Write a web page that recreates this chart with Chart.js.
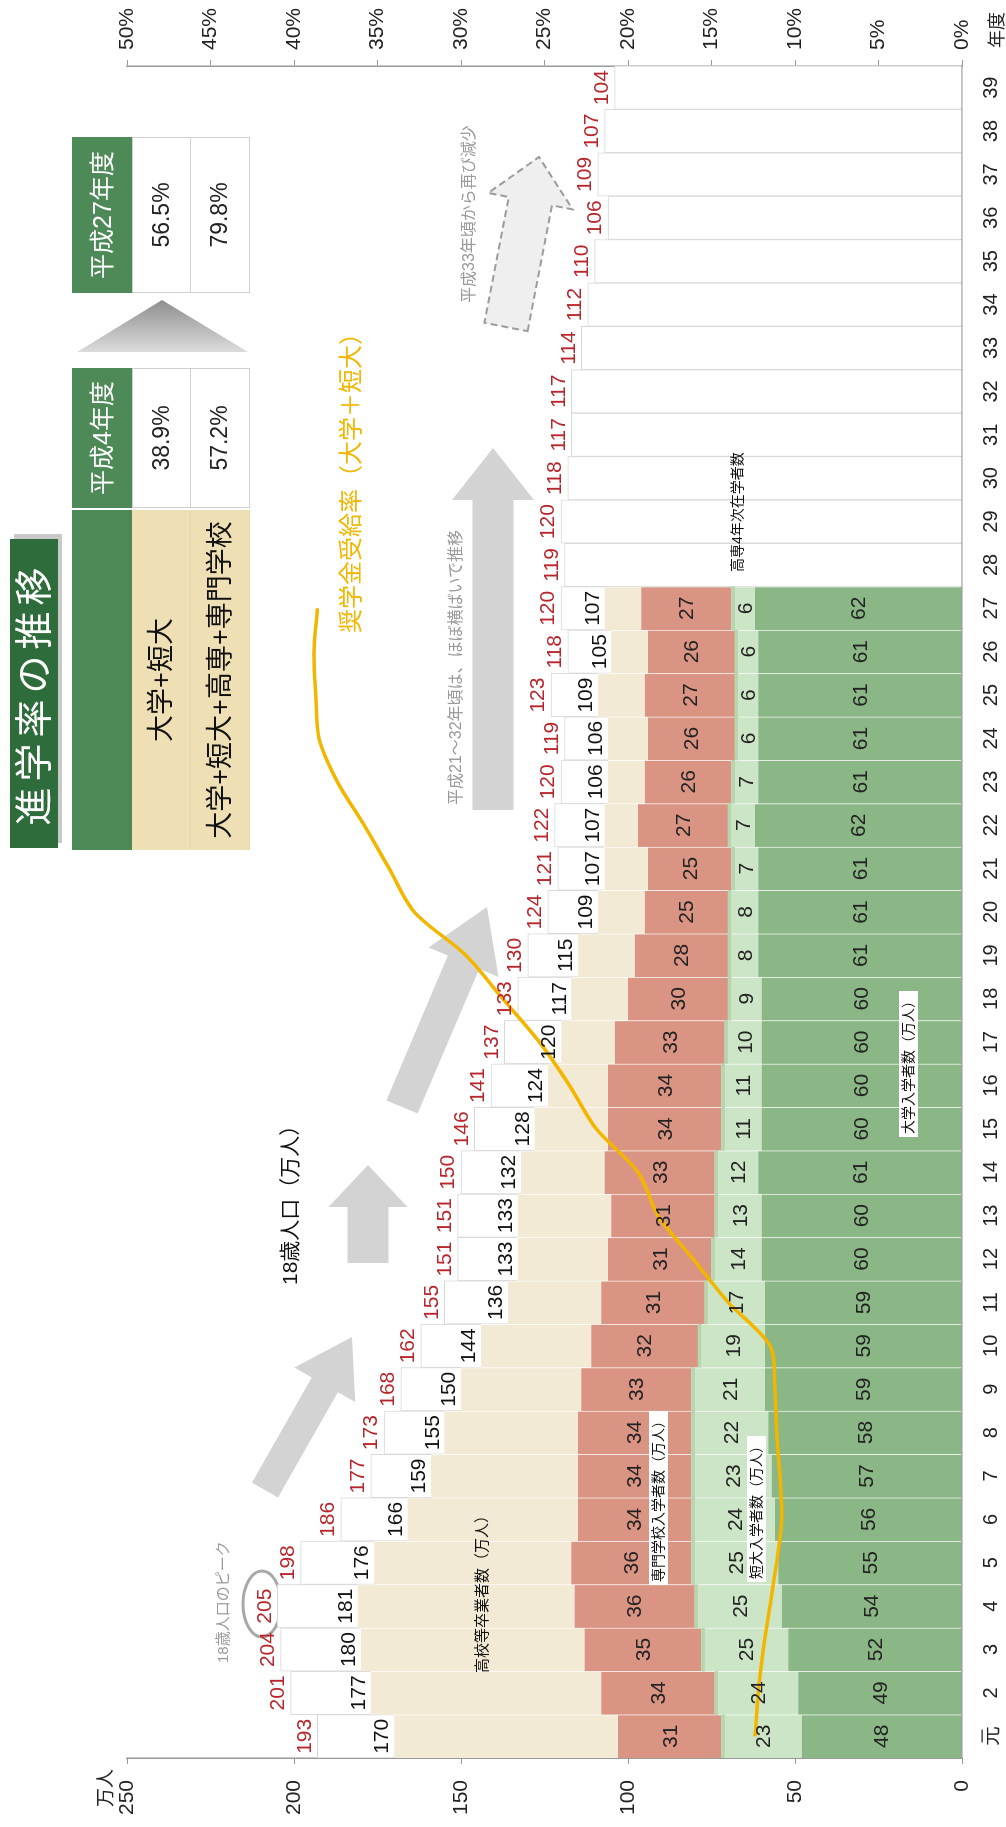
<!DOCTYPE html>
<html lang="ja">
<head>
<meta charset="utf-8">
<title>進学率の推移</title>
<script src="https://cdn.jsdelivr.net/npm/chart.js@4.4.1/dist/chart.umd.min.js"></script>
<style>
html, body { margin: 0; padding: 0; background: #fff; width: 1006px; height: 1827px; overflow: hidden; }
/* the chart is laid out in landscape and turned a quarter turn to the left */
#land {
    position: absolute; left: 0; top: 0; width: 1827px; height: 1006px;
    transform-origin: 0 0; transform: translate(0, 1827px) rotate(-90deg);
    font-family: "Liberation Sans", Arial, "Noto Sans CJK JP", sans-serif;
}
#arrows { position: absolute; left: 0; top: 0; z-index: 0; }
#chart { position: absolute; left: 0; top: 0; z-index: 1; }
.abs { position: absolute; white-space: nowrap; z-index: 2; }
.cell { position: absolute; box-sizing: border-box; text-align: center; z-index: 2; }
.green { background: #4e8a57; color: #fff; font-size: 25px; }
.beige { background: #eedfb5; color: #111; font-size: 27px; border-bottom: 1px solid #e4d6ae; }
.white { background: #fff; color: #222; font-size: 23px; border: 1.5px solid #cfcfcf; }
.tag { background: #fff; color: #111; font-size: 14px; padding: 0 3px; line-height: 19px; }
.note { color: #9a9a9a; font-size: 16px; }
</style>
</head>
<body>
<div id="land">
    <svg id="arrows" width="1827" height="1006"></svg>
    <canvas id="chart" width="1827" height="1006"></canvas>

    <!-- title and the rate table -->
    <div class="abs" style="left:979px;top:10px;width:309px;height:48px;background:#2f6c3b;color:#fff;font-size:38px;line-height:48px;text-align:center;letter-spacing:6px;box-shadow:5px 4px 0 #c9c9c9;">進学率の推移</div>

    <div class="cell green" style="left:977px;top:72px;width:340px;height:60px;"></div>
    <div class="cell beige" style="left:977px;top:132px;width:340px;height:59px;line-height:59px;">大学+短大</div>
    <div class="cell beige" style="left:977px;top:191px;width:340px;height:59px;line-height:59px;">大学+短大+高専+専門学校</div>

    <div class="cell green" style="left:1319px;top:72px;width:140px;height:60px;line-height:60px;">平成4年度</div>
    <div class="cell white" style="left:1319px;top:132px;width:140px;height:59px;line-height:56px;">38.9%</div>
    <div class="cell white" style="left:1319px;top:190px;width:140px;height:60px;line-height:57px;">57.2%</div>

    <div class="cell green" style="left:1534px;top:72px;width:156px;height:60px;line-height:60px;">平成27年度</div>
    <div class="cell white" style="left:1534px;top:132px;width:156px;height:59px;line-height:56px;">56.5%</div>
    <div class="cell white" style="left:1534px;top:190px;width:156px;height:60px;line-height:57px;">79.8%</div>

    <!-- annotations -->
    <div class="abs" style="left:20px;top:90px;font-size:19px;color:#222;">万人</div>
    <div class="abs" style="left:1779px;top:982px;font-size:18px;color:#222;">年度</div>
    <div class="abs" style="left:542px;top:273px;font-size:21px;color:#111;">18歳人口（万人）</div>
    <div class="abs note" style="left:164px;top:211px;font-size:15px;">18歳人口のピーク</div>
    <div class="abs note" style="left:1022px;top:442px;">平成21～32年頃は、ほぼ横ばいで推移</div>
    <div class="abs note" style="left:1524px;top:455px;">平成33年頃から再び減少</div>
    <div class="abs" style="left:1194px;top:331px;font-size:24px;color:#f2b600;">奨学金受給率（大学＋短大）</div>
    <div class="abs" style="left:154px;top:470px;font-size:15px;color:#111;">高校等卒業者数（万人）</div>
    <div class="abs tag" style="left:242px;top:649px;">専門学校入学者数（万人）</div>
    <div class="abs tag" style="left:245px;top:747px;">短大入学者数（万人）</div>
    <div class="abs tag" style="left:690px;top:899px;">大学入学者数（万人）</div>
    <div class="abs" style="left:1255px;top:726px;font-size:14px;color:#111;">高専4年次在学者数</div>
</div>

<script>
// === Data (万人 / %) ===
const years = ['元', '2', '3', '4', '5', '6', '7', '8', '9', '10', '11', '12', '13', '14', '15', '16', '17', '18', '19', '20',
    '21', '22', '23', '24', '25', '26', '27', '28', '29', '30', '31', '32', '33', '34', '35', '36', '37', '38', '39'];

// 大学入学者数
const univ = [48, 49, 52, 54, 55, 56, 57, 58, 59, 59, 59, 60, 60, 61, 60, 60, 60, 60, 61, 61, 61, 62, 61, 61, 61, 61, 62];
// 短大入学者数
const junior = [23, 24, 25, 25, 25, 24, 23, 22, 21, 19, 17, 14, 13, 12, 11, 11, 10, 9, 8, 8, 7, 7, 7, 6, 6, 6, 6];
// 高専4年次在学者数 (thin band, no labels)
const kosen = [1, 1, 1, 1, 1, 1, 1, 1, 1, 1, 1, 1, 1, 1, 1, 1, 1, 1, 1, 1, 1, 1, 1, 1, 1, 1, 1];
// 専門学校入学者数
const senmon = [31, 34, 35, 36, 36, 34, 34, 34, 33, 32, 31, 31, 31, 33, 34, 34, 33, 30, 28, 25, 25, 27, 26, 26, 27, 26, 27];
// 高校等卒業者数
const grads = [170, 177, 180, 181, 176, 166, 159, 155, 150, 144, 136, 133, 133, 132, 128, 124, 120, 117, 115, 109,
    107, 107, 106, 106, 109, 105, 107];
// 18歳人口
const pop18 = [193, 201, 204, 205, 198, 186, 177, 173, 168, 162, 155, 151, 151, 150, 146, 141, 137, 133, 130, 124,
    121, 122, 120, 119, 123, 118, 120, 119, 120, 118, 117, 117, 114, 112, 110, 106, 109, 107, 104];
// 奨学金受給率（大学＋短大） %
const scholarRate = [12.4, 12.2, 11.9, 11.5, 11.1, 10.8, 10.9, 11.1, 11.2, 11.5, 14.0, 16.1, 18.2, 19.4, 21.9, 23.5,
    25.3, 27.5, 29.7, 32.8, 34.3, 35.8, 37.4, 38.5, 38.7, 38.8, 38.6];

// the beige part is what is left of the graduates, the white part is the rest of the 18-year-olds
const gradsRest = grads.map((g, i) => g - univ[i] - junior[i] - kosen[i] - senmon[i]);
const popRest = pop18.map((p, i) => i < grads.length ? p - grads[i] : p);

// === Arrows and the ring round the peak (plain drawings, landscape coords) ===
function arrowPath(tx, ty, px, py, w, hw, hl) {
    const L = Math.hypot(px - tx, py - ty), ux = (px - tx) / L, uy = (py - ty) / L, nx = -uy, ny = ux;
    const bx = px - ux * hl, by = py - uy * hl;
    const pts = [
        [tx + nx * w / 2, ty + ny * w / 2], [bx + nx * w / 2, by + ny * w / 2], [bx + nx * hw / 2, by + ny * hw / 2],
        [px, py],
        [bx - nx * hw / 2, by - ny * hw / 2], [bx - nx * w / 2, by - ny * w / 2], [tx - nx * w / 2, ty - ny * w / 2]
    ];
    return pts.map(p => p[0].toFixed(1) + ',' + p[1].toFixed(1)).join(' ');
}
const svg = document.getElementById('arrows');
svg.innerHTML = `
  <defs><linearGradient id="tri" x1="0" x2="1" y1="0" y2="0">
    <stop offset="0" stop-color="#dcdcdc"/><stop offset="1" stop-color="#8e8e8e"/></linearGradient></defs>
  <polygon points="1475,77 1475,248 1527,162" fill="url(#tri)"/>
  <polygon points="${arrowPath(337, 265, 490, 352, 30, 70, 55)}" fill="#d3d3d3"/>
  <polygon points="${arrowPath(564, 368, 662, 368, 41, 79, 42)}" fill="#d3d3d3"/>
  <polygon points="${arrowPath(720, 402, 920, 487, 34, 76, 60)}" fill="#d3d3d3"/>
  <polygon points="${arrowPath(1017, 493, 1379, 493, 41, 82, 52)}" fill="#d3d3d3"/>
  <polygon points="${arrowPath(1500, 506, 1670, 539, 44, 86, 45)}" fill="#efefef" stroke="#9c9c9c" stroke-width="2" stroke-dasharray="7 4"/>
  <ellipse cx="223" cy="262" rx="33" ry="19" fill="none" stroke="#a8a8a8" stroke-width="3"/>
`;

// === Numbers on and above the bars ===
const valueLabels = {
    id: 'valueLabels',
    afterDatasetsDraw(chart) {
        const ctx = chart.ctx;
        const x = chart.scales.x, y = chart.scales.y;
        ctx.save();
        ctx.font = '21px "Liberation Sans", Arial, sans-serif';
        ctx.textAlign = 'center';

        // 大学 / 短大 / 専門 values in the middle of their segment
        [0, 1, 3].forEach(di => {
            chart.getDatasetMeta(di).data.forEach((bar, i) => {
                const v = chart.data.datasets[di].data[i];
                if (v == null) return;
                ctx.fillStyle = '#222';
                ctx.textBaseline = 'middle';
                ctx.fillText(v, bar.x, (bar.y + bar.base) / 2 + 1);
            });
        });

        // graduates (black) just above the beige top
        ctx.textBaseline = 'bottom';
        grads.forEach((g, i) => {
            ctx.fillStyle = '#111';
            ctx.fillText(g, x.getPixelForValue(i), y.getPixelForValue(g) - 1);
        });
        // 18-year-olds (red) above the whole bar
        pop18.forEach((p, i) => {
            ctx.fillStyle = '#b8262c';
            ctx.fillText(p, x.getPixelForValue(i), y.getPixelForValue(p) - 2);
        });
        ctx.restore();
    }
};

const sep = { top: 0, bottom: 0, left: 0, right: 1 };
const axisGrey = '#9a9a9a';
const tickFont = { family: '"Liberation Sans", Arial, sans-serif', size: 21 };

new Chart(document.getElementById('chart'), {
    type: 'bar',
    data: {
        labels: years,
        datasets: [
            { label: '大学入学者数', data: univ, backgroundColor: '#8ab785', borderColor: 'rgba(255,255,255,0.35)', borderWidth: sep, order: 1 },
            { label: '短大入学者数', data: junior, backgroundColor: '#cde5c7', borderColor: 'rgba(255,255,255,0.35)', borderWidth: sep, order: 1 },
            { label: '高専4年次在学者数', data: kosen, backgroundColor: '#b6d6ae', borderWidth: 0, order: 1 },
            { label: '専門学校入学者数', data: senmon, backgroundColor: '#da9483', borderColor: 'rgba(255,255,255,0.35)', borderWidth: sep, order: 1 },
            { label: '高校等卒業者数', data: gradsRest, backgroundColor: '#f3ead5', borderColor: 'rgba(255,255,255,0.5)', borderWidth: sep, order: 1 },
            { label: '18歳人口', data: popRest, backgroundColor: '#ffffff', borderColor: '#d8d8d8', borderWidth: 1, order: 1 },
            {
                type: 'line', label: '奨学金受給率（大学＋短大）', data: scholarRate, yAxisID: 'y1',
                borderColor: '#f2b600', borderWidth: 3.5, pointRadius: 0, tension: 0.3, order: 0
            }
        ]
    },
    options: {
        responsive: false,
        animation: false,
        devicePixelRatio: 1,
        datasets: { bar: { categoryPercentage: 1, barPercentage: 1 } },
        layout: { padding: { top: 127, left: 0, right: 0, bottom: 0 } },
        plugins: { legend: { display: false }, tooltip: { enabled: false } },
        scales: {
            x: {
                stacked: true,
                grid: { display: false },
                border: { display: true, color: axisGrey, width: 1.5 },
                ticks: { font: { ...tickFont, size: 20 }, color: '#222', padding: 9, maxRotation: 0, autoSkip: false },
                afterFit(s) { s.height = 44; }
            },
            y: {
                stacked: true, min: 0, max: 250,
                grid: { drawOnChartArea: false, drawTicks: true, tickLength: 6, color: axisGrey },
                border: { display: true, color: axisGrey, width: 1.5 },
                ticks: { stepSize: 50, font: tickFont, color: '#222', padding: 16 },
                afterFit(s) { s.width = 69; }
            },
            y1: {
                position: 'right', stacked: false, min: 0, max: 50,
                grid: { drawOnChartArea: false, drawTicks: true, tickLength: 6, color: axisGrey },
                border: { display: true, color: axisGrey, width: 1.5 },
                ticks: { stepSize: 5, font: tickFont, color: '#222', padding: 10, callback: v => v + '%' },
                afterFit(s) { s.width = 66; }
            }
        }
    },
    plugins: [valueLabels]
});
</script>
</body>
</html>
